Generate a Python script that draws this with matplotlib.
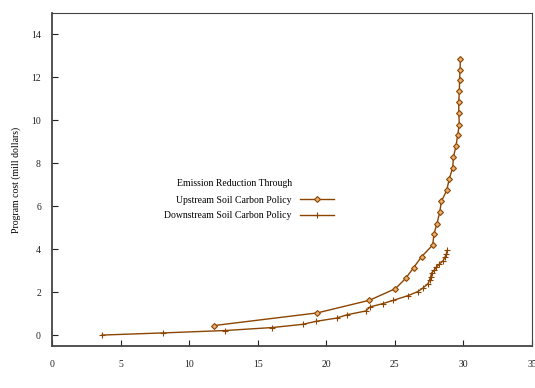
import matplotlib.pyplot as plt

plt.rcParams['font.family'] = ['Liberation Serif', 'DejaVu Serif']
plt.rcParams['font.size'] = 7.0

# Upstream soil carbon policy (diamonds)
up_x = [11.78, 19.33, 23.15, 25.04, 25.79, 26.37, 26.95, 27.76, 27.85, 28.07,
        28.27, 28.39, 28.78, 28.97, 29.22, 29.27, 29.46, 29.58, 29.70, 29.66,
        29.66, 29.70, 29.72, 29.75, 29.78]
up_y = [0.45, 1.04, 1.63, 2.17, 2.65, 3.15, 3.66, 4.20, 4.71, 5.20,
        5.72, 6.23, 6.74, 7.29, 7.80, 8.29, 8.82, 9.32, 9.81, 10.34,
        10.84, 11.36, 11.86, 12.36, 12.87]

# Downstream soil carbon policy (plus)
down_x = [3.65, 8.10, 12.59, 16.07, 18.28, 19.26, 20.75, 21.54, 22.88, 23.19,
          24.10, 24.90, 25.98, 26.66, 27.05, 27.42, 27.54, 27.61, 27.68, 27.85,
          28.03, 28.22, 28.51, 28.66, 28.76, 28.83]
down_y = [0.01, 0.11, 0.22, 0.36, 0.51, 0.65, 0.80, 0.96, 1.13, 1.32,
          1.47, 1.63, 1.85, 2.03, 2.20, 2.40, 2.59, 2.71, 2.90, 3.02,
          3.18, 3.30, 3.46, 3.64, 3.80, 3.95]

color = '#8b4500'

fig = plt.figure(figsize=(5.35, 3.88), dpi=100)
ax = fig.add_axes([0.0972, 0.1082, 0.8972, 0.8583])

ax.plot(up_x, up_y, color=color, lw=1.0, marker='D', ms=3.0,
        mfc='#e8b070', mec=color, mew=0.8, label='Upstream Soil Carbon Policy')
ax.plot(down_x, down_y, color=color, lw=1.0, marker='+', ms=5,
        mec=color, mew=0.8, label='Downstream Soil Carbon Policy')

ax.set_xlim(0, 35)
ax.set_ylim(-0.5, 15)
ax.set_xticks(range(0, 36, 5))
ax.set_yticks(range(0, 15, 2))
ax.tick_params(axis='x', direction='in', length=4, pad=10, colors='#222222')
ax.tick_params(axis='y', direction='in', length=4, pad=8, colors='#222222')
for s in ax.spines.values():
    s.set_color('#444444')
ax.spines['left'].set_linewidth(1.3)
ax.spines['bottom'].set_linewidth(1.3)

ax.set_xlabel('Emission reduction (mmtce)', labelpad=14)
ax.set_ylabel('Program cost (mill dollars)', labelpad=7)

# key: title right-aligned with the entry labels
ax.legend(frameon=False, markerfirst=False,
          loc='center', bbox_to_anchor=(0.4654, 1 - 208 / 388),
          bbox_transform=fig.transFigure, handlelength=3.5,
          labelspacing=0.7)
fig.text(292 / 535, 1 - 184 / 388, 'Emission Reduction Through',
         ha='right', va='center')

fig.savefig('out.png', dpi=100)
